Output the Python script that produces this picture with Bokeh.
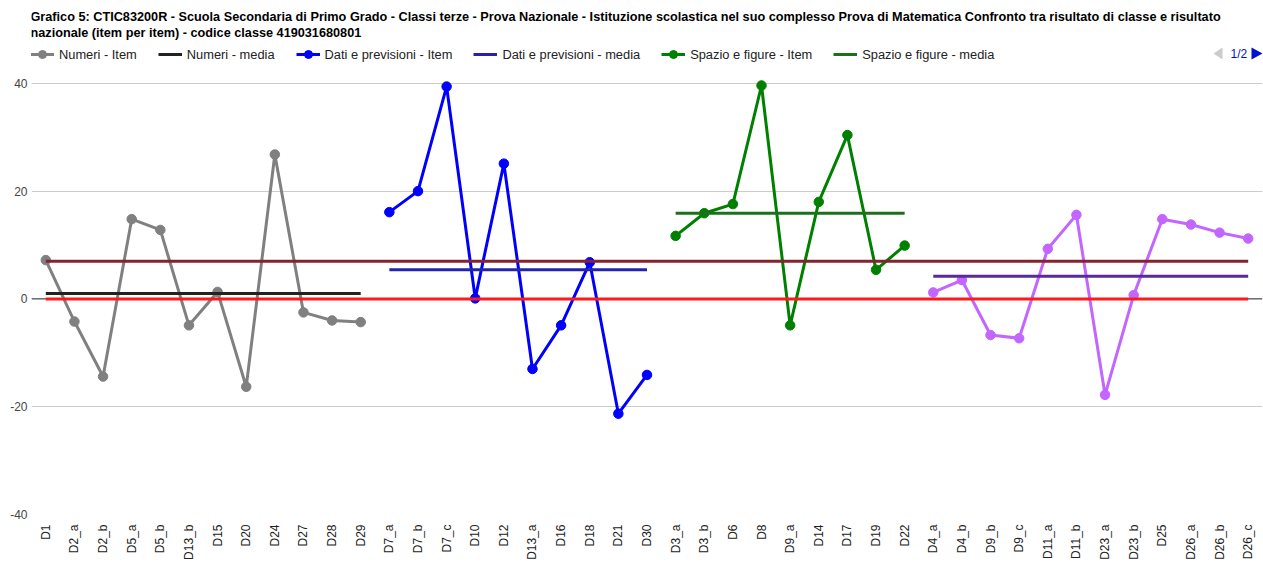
import math
from bokeh.plotting import figure
from bokeh.models import (FactorRange, Range1d, FixedTicker, Span, Label, Legend,
                          LegendItem, PolyAnnotation)
from bokeh.embed import file_html
from bokeh.resources import INLINE

FONT = "Liberation Sans"

title_line1 = ("Grafico 5: CTIC83200R - Scuola Secondaria di Primo Grado - Classi terze - "
               "Prova Nazionale - Istituzione scolastica nel suo complesso Prova di Matematica "
               "Confronto tra risultato di classe e risultato")
title_line2 = "nazionale (item per item) - codice classe 419031680801"
page_label = "1/2"

numeri_items = ["D1", "D2_a", "D2_b", "D5_a", "D5_b", "D13_b", "D15", "D20", "D24", "D27", "D28", "D29"]
numeri_values = [7.2, -4.2, -14.4, 14.8, 12.8, -4.9, 1.3, -16.3, 26.8, -2.5, -4.0, -4.3]
numeri_media = 1.0

dati_items = ["D7_a", "D7_b", "D7_c", "D10", "D12", "D13_a", "D16", "D18", "D21", "D30"]
dati_values = [16.1, 20.0, 39.4, 0.1, 25.1, -13.0, -4.9, 6.8, -21.3, -14.1]
dati_media = 5.4

spazio_items = ["D3_a", "D3_b", "D6", "D8", "D9_a", "D14", "D17", "D19", "D22"]
spazio_values = [11.7, 15.9, 17.6, 39.6, -4.9, 18.0, 30.4, 5.4, 9.9]
spazio_media = 15.9

relazioni_items = ["D4_a", "D4_b", "D9_b", "D9_c", "D11_a", "D11_b", "D23_a", "D23_b",
                   "D25", "D26_a", "D26_b", "D26_c"]
relazioni_values = [1.2, 3.5, -6.7, -7.3, 9.3, 15.6, -17.8, 0.7, 14.8, 13.8, 12.3, 11.2]
relazioni_media = 4.2

media_classe = 7.0
media_nazionale = 0.0

y_ticks = [-40, -20, 0, 20, 40]
y_tick_labels = {-40: "-40", -20: "-20", 0: "0", 20: "20", 40: "40"}

all_items = numeri_items + dati_items + spazio_items + relazioni_items

# plot area: value 40 sits 83px below the top of the canvas, 5.4 px per unit;
# the frame is extended upwards so the header (title, legend) lives inside it.
Y_MIN, Y_MAX = -40, 40
PX_PER_UNIT = 5.4
HEADER_PX = 83

p = figure(width=1263, height=562,
           x_range=FactorRange(*all_items, range_padding=0),
           y_range=Range1d(Y_MIN, Y_MAX + HEADER_PX / PX_PER_UNIT),
           output_backend="svg", toolbar_location=None,
           min_border_left=31, min_border_right=1, min_border_top=0, min_border_bottom=47)
p.outline_line_color = None
p.background_fill_color = "white"
p.border_fill_color = "white"

p.xgrid.visible = False
p.ygrid.grid_line_color = "#cccccc"
p.ygrid.grid_line_width = 1
p.yaxis.ticker = FixedTicker(ticks=y_ticks)
p.ygrid.ticker = FixedTicker(ticks=y_ticks)
p.yaxis.major_label_overrides = y_tick_labels

for ax in (p.xaxis, p.yaxis):
    ax.axis_line_color = None
    ax.major_tick_line_color = None
    ax.minor_tick_line_color = None
    ax.major_tick_out = 0
    ax.major_tick_in = 0
    ax.major_label_text_font = FONT

p.yaxis.major_label_text_font_size = "12px"
p.yaxis.major_label_text_color = "#444444"
p.yaxis.major_label_standoff = 4

p.xaxis.major_label_text_font_size = "12px"
p.xaxis.major_label_text_color = "#222222"
p.xaxis.major_label_orientation = math.pi / 2
p.xaxis.major_label_standoff = 10

p.add_layout(Span(location=0, dimension="width", line_color="#333333", line_width=1,
                  level="underlay"))


def item_series(items, values, color):
    ln = p.line(items, values, line_color=color, line_width=3)
    sc = p.scatter(items, values, size=9.5, fill_color=color, line_color=color)
    return [ln, sc]


def media_series(items, value, color):
    return [p.line([items[0], items[-1]], [value, value], line_color=color, line_width=3)]


r_num_i = item_series(numeri_items, numeri_values, "#808080")
r_num_m = media_series(numeri_items, numeri_media, "#222222")
r_dat_i = item_series(dati_items, dati_values, "#0000ff")
r_dat_m = media_series(dati_items, dati_media, "#2424a8")
r_spa_i = item_series(spazio_items, spazio_values, "#008000")
r_spa_m = media_series(spazio_items, spazio_media, "#1c701c")
r_rel_i = item_series(relazioni_items, relazioni_values, "#c266ff")
r_rel_m = media_series(relazioni_items, relazioni_media, "#5a2a9a")
media_series(all_items, media_classe, "#85222f")
media_series(all_items, media_nazionale, "#ff1a1a")

legend = Legend(items=[
    LegendItem(label="Numeri - Item", renderers=r_num_i),
    LegendItem(label="Numeri - media", renderers=r_num_m),
    LegendItem(label="Dati e previsioni - Item", renderers=r_dat_i),
    LegendItem(label="Dati e previsioni - media", renderers=r_dat_m),
    LegendItem(label="Spazio e figure - Item", renderers=r_spa_i),
    LegendItem(label="Spazio e figure - media", renderers=r_spa_m),
], orientation="horizontal", location=(-1, 450), padding=0, margin=0, spacing=21,
    glyph_width=24, glyph_height=20, label_height=20, label_standoff=5,
    label_text_font=FONT, label_text_font_size="12.85px", label_text_color="#222222",
    border_line_color=None, background_fill_alpha=0)
p.add_layout(legend)

p.add_layout(Label(x=-1, y=498, x_units="screen", y_units="screen", text=title_line1,
                   text_font=FONT, text_font_size="12.7px", text_font_style="bold",
                   text_color="#000000", text_baseline="middle"))
p.add_layout(Label(x=-1, y=482, x_units="screen", y_units="screen", text=title_line2,
                   text_font=FONT, text_font_size="12.7px", text_font_style="bold",
                   text_color="#000000", text_baseline="middle"))
p.add_layout(Label(x=1199, y=461, x_units="screen", y_units="screen", text=page_label,
                   text_font=FONT, text_font_size="12px", text_color="#0011cc",
                   text_baseline="middle"))
p.add_layout(PolyAnnotation(xs=[1182, 1191, 1191], ys=[461, 467, 455],
                            xs_units="screen", ys_units="screen",
                            fill_color="#cccccc", fill_alpha=1, line_color=None))
p.add_layout(PolyAnnotation(xs=[1220, 1220, 1231], ys=[467, 455, 461],
                            xs_units="screen", ys_units="screen",
                            fill_color="#0011cc", fill_alpha=1, line_color=None))

open("out.html", "w").write(file_html(p, INLINE))
